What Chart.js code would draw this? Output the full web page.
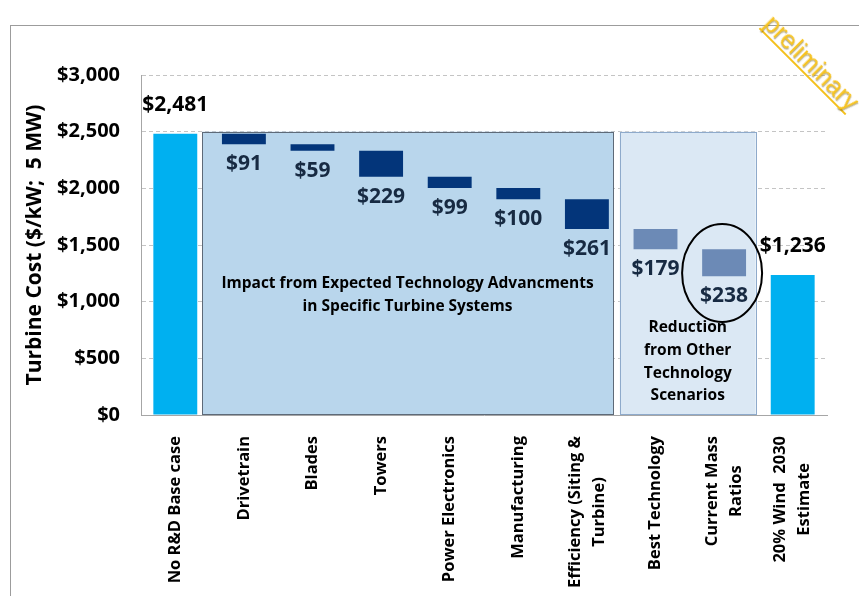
<!DOCTYPE html>
<html>
<head>
<meta charset="utf-8">
<title>Turbine Cost Reduction Waterfall</title>
<script src="https://cdn.jsdelivr.net/npm/chart.js@4.4.1/dist/chart.umd.min.js"></script>
<style>
  html, body { margin: 0; padding: 0; background: #fff; }
  #wrap { position: relative; width: 859px; height: 596px; overflow: hidden; }
  #frame {
    position: absolute; left: 10px; top: 25px; width: 900px; height: 700px;
    border-left: 1px solid #9c9c9c; border-top: 1px solid #9c9c9c;
  }
  #chart { position: absolute; left: 0; top: 0; }
  #stamp {
    position: absolute; left: 750px; top: 50px;
    font: 25px "Liberation Sans", Arial, sans-serif; color: #f8c420;
    transform: rotate(45deg); transform-origin: center;
    border-bottom: 2px solid #f4c01c; line-height: 24px;
    text-shadow: 1px 1px 1px rgba(90, 70, 0, 0.45);
  }
</style>
</head>
<body>
<div id="wrap">
  <div id="frame"></div>
  <canvas id="chart" width="859" height="596"></canvas>
  <div id="stamp">preliminary</div>
</div>
<script>
// Waterfall: base case, per-system reductions, other scenario reductions, 2030 estimate
const categories = [
  ["No R&D Base case"], ["Drivetrain"], ["Blades"], ["Towers"], ["Power Electronics"],
  ["Manufacturing"], ["Efficiency (Siting &", "Turbine)"], ["Best Technology"],
  ["Current Mass", "Ratios"], ["20% Wind  2030", "Estimate"]
];
const baseCase = 2481;
const reductions = [91, 59, 229, 99, 100, 261, 179, 238];
const estimate2030 = 1236;
const barKinds = ["total", "system", "system", "system", "system", "system", "system", "scenario", "scenario", "total"];
const yTicks = [0, 500, 1000, 1500, 2000, 2500, 3000];

const FONT = "'Open Sans', sans-serif";
const kindColors = { total: "#00b0f0", system: "#03357a", scenario: "#6c8ab6" };

// floating [low, high] ranges for each bar
const ranges = [[0, baseCase]];
let level = baseCase;
reductions.forEach(r => {
  ranges.push([level - r, level]);
  level -= r;
});
ranges.push([0, estimate2030]);
const labelValues = [baseCase, ...reductions, estimate2030];

const money = v => "$" + v.toLocaleString("en-US");

// shaded group boxes behind the bars
const panelPlugin = {
  id: "panels",
  beforeDatasetsDraw(chart, args, opts) {
    const { ctx, scales: { x, y } } = chart;
    opts.boxes.forEach(b => {
      const left = x.getPixelForValue(b.from);
      const right = x.getPixelForValue(b.to);
      const top = y.getPixelForValue(b.top);
      const bottom = y.getPixelForValue(0) - 1;
      ctx.save();
      ctx.fillStyle = b.fill;
      ctx.fillRect(left, top, right - left, bottom - top);
      ctx.strokeStyle = b.stroke;
      ctx.lineWidth = 1;
      ctx.strokeRect(Math.round(left) + 0.5, Math.round(top) + 0.5, Math.round(right - left), Math.round(bottom - top));
      ctx.fillStyle = "#000";
      ctx.font = "bold 15.5px " + FONT;
      ctx.textAlign = "center";
      ctx.textBaseline = "middle";
      const cx = (left + right) / 2;
      const ty = y.getPixelForValue(b.textAt);
      b.text.forEach((line, i) => ctx.fillText(line, cx, ty + i * b.lineGap));
      ctx.restore();
    });
  }
};

// value labels, the highlight ring and the rotated category names
const labelPlugin = {
  id: "valueLabels",
  afterDatasetsDraw(chart, args, opts) {
    const { ctx, scales: { x, y } } = chart;
    const meta = chart.getDatasetMeta(0);
    ctx.save();
    ctx.font = "bold 21px " + FONT;
    ctx.textAlign = "center";
    ctx.textBaseline = "middle";
    meta.data.forEach((bar, i) => {
      const top = Math.min(bar.y, bar.base);
      const bottom = Math.max(bar.y, bar.base);
      if (barKinds[i] === "total") {
        ctx.fillStyle = "#000";
        ctx.fillText(money(labelValues[i]), bar.x, top - 29);
      } else {
        ctx.fillStyle = "#172a42";
        ctx.fillText(money(labelValues[i]), bar.x, bottom + 20);
      }
    });

    const ring = opts.ring;
    ctx.beginPath();
    ctx.ellipse(x.getPixelForValue(ring.index) - 2, y.getPixelForValue(ring.value), ring.rx, ring.ry, 0, 0, Math.PI * 2);
    ctx.strokeStyle = "#000";
    ctx.lineWidth = 2;
    ctx.stroke();

    // category names read bottom to top; wrapped names are centred line by line
    ctx.fillStyle = "#000";
    ctx.font = "bold 16.5px " + FONT;
    const axisY = y.getPixelForValue(0) + opts.namePad;
    categories.forEach((lines, i) => {
      const cx = x.getPixelForValue(i);
      const longest = Math.max(...lines.map(l => ctx.measureText(l).width));
      lines.forEach((line, j) => {
        const off = (j - (lines.length - 1) / 2) * opts.nameGap;
        ctx.save();
        ctx.translate(cx + off, axisY);
        ctx.rotate(-Math.PI / 2);
        if (lines.length > 1) {
          ctx.textAlign = "center";
          ctx.fillText(line, -longest / 2, 0);
        } else {
          ctx.textAlign = "right";
          ctx.fillText(line, 0, 0);
        }
        ctx.restore();
      });
    });
    ctx.restore();
  }
};

new Chart(document.getElementById("chart"), {
  type: "bar",
  data: {
    labels: categories.map(l => l.join(" ")),
    datasets: [{
      data: ranges,
      backgroundColor: barKinds.map(k => kindColors[k]),
      borderWidth: 0,
      categoryPercentage: 1,
      barPercentage: 0.64
    }]
  },
  options: {
    responsive: false,
    animation: false,
    layout: { padding: { top: 75, right: 32, left: 0, bottom: 0 } },
    plugins: {
      legend: { display: false },
      tooltip: { enabled: false },
      panels: {
        boxes: [
          {
            from: 0.39, to: 6.38, top: 2500, fill: "#b9d6ec", stroke: "#5e6a78",
            textAt: 1156, lineGap: 23,
            text: ["Impact from Expected Technology Advancments", "in Specific Turbine Systems"]
          },
          {
            from: 6.48, to: 8.46, top: 2500, fill: "#dbe8f4", stroke: "#8eaacb",
            textAt: 768, lineGap: 22.7,
            text: ["Reduction", "from Other", "Technology", "Scenarios"]
          }
        ]
      },
      valueLabels: { ring: { index: 8, value: 1253, rx: 40, ry: 49 }, namePad: 21, nameGap: 24 }
    },
    scales: {
      x: {
        grid: { display: false },
        border: { display: true, color: "#a6a6a6" },
        ticks: { display: false },
        afterFit(scale) { scale.height = 181; }
      },
      y: {
        min: 0, max: 3000,
        afterBuildTicks(scale) { scale.ticks = yTicks.map(v => ({ value: v })); },
        grid: { color: "#c4c4c4", drawTicks: false },
        border: { display: true, color: "#a6a6a6", dash: [4, 3] },
        ticks: {
          padding: 21, color: "#000",
          font: { family: FONT, size: 20, weight: "bold" },
          callback: v => money(v)
        },
        title: {
          display: true, text: "Turbine Cost ($/kW;  5 MW)", color: "#000",
          font: { family: FONT, size: 21, weight: "bold" },
          padding: { top: 22, bottom: 0 }
        },
        afterFit(scale) { scale.width = 141; }
      }
    }
  },
  plugins: [panelPlugin, labelPlugin]
});
</script>
</body>
</html>
